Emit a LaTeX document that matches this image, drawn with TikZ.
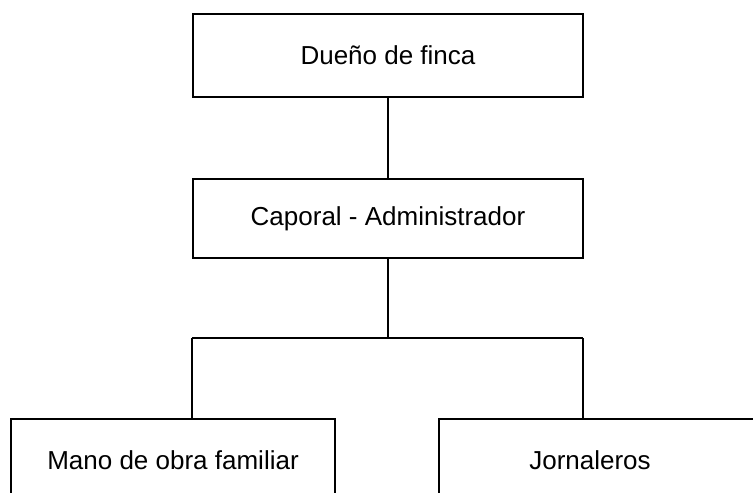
\documentclass[tikz,border=0pt]{standalone}
\usepackage{fontspec}
\setmainfont{Liberation Sans}

\tikzset{
	box/.style={draw, line width=1.2pt, rectangle, inner sep=0pt},
	boxtext/.style={font=\fontsize{26}{31}\selectfont}
}

\begin{document}
\begin{tikzpicture}[x=1pt,y=-1pt]
			\clip (0,0) rectangle (753,493);

			% Top
			\node[box, boxtext, minimum width=390pt, minimum height=83pt] (dueno) at (388,55.5) {Dueño de finca};

			% Middle
			\node[box, boxtext, minimum width=390pt, minimum height=79pt] (caporal) at (388,218.5) {Caporal - Administrador};

			% Bottom
			\node[box, boxtext, minimum width=324pt, minimum height=82pt] (mano) at (173,460) {Mano de obra familiar};
			\node[box, minimum width=322pt, minimum height=82pt,
				label={[boxtext, xshift=-10pt]center:Jornaleros}] (jornaleros) at (600,460) {};

			% Bus
			\coordinate (bus) at (388,338);
			\coordinate (busL) at (192,338);
			\coordinate (busR) at (583,338);

			% Draw edges
			\draw[line width=1.2pt] (dueno) -- (caporal);
			\draw[line width=1.2pt] (caporal.south) -- (bus);
			\draw[line width=1.2pt] (busL) -- (busR);
			\draw[line width=1.2pt] (busL) -- (busL |- mano.north);
			\draw[line width=1.2pt] (busR) -- (busR |- jornaleros.north);
		\end{tikzpicture}
\end{document}
